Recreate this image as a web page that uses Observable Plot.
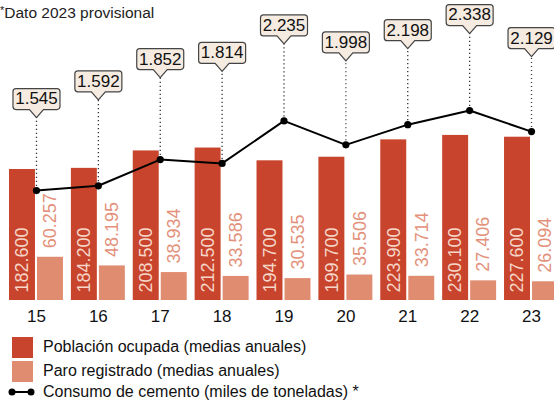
<!DOCTYPE html>
<html>
<head>
<meta charset="utf-8">
<script src="https://cdn.jsdelivr.net/npm/d3@7"></script>
<script src="https://cdn.jsdelivr.net/npm/@observablehq/plot@0.6"></script>
<style>
  html, body { margin: 0; padding: 0; background: #fff; }
  body { font-family: "Liberation Sans", Arial, Helvetica, sans-serif; }
  #wrap { position: relative; width: 554px; height: 404px; overflow: hidden; }
  #title { position: absolute; left: 0; top: 1px; font-size: 15.5px; color: #222; line-height: 18px; }
  #title sup { font-size: 11px; vertical-align: 4px; }
  #chart { position: absolute; left: 0; top: 0; }
  .leg { position: absolute; left: 0; font-size: 16px; color: #111; }
  .sw { position: absolute; left: 12px; width: 21px; height: 21px; }
  .lt { position: absolute; left: 43px; white-space: nowrap; line-height: 20px; }
</style>
</head>
<body>
<div id="wrap">
  <div id="chart"></div>
  <div id="title"><sup>*</sup>Dato 2023 provisional</div>
  <div class="sw" style="top:337px;background:#c8442c"></div>
  <div class="leg lt" style="top:337px">Población ocupada (medias anuales)</div>
  <div class="sw" style="top:361px;background:#e08c70"></div>
  <div class="leg lt" style="top:361px">Paro registrado (medias anuales)</div>
  <svg style="position:absolute;left:0;top:384px" width="40" height="16">
    <line x1="12" x2="31" y1="8" y2="8" stroke="#000" stroke-width="2"></line>
    <circle cx="12" cy="8" r="3.5" fill="#000"></circle>
    <circle cx="31" cy="8" r="3.5" fill="#000"></circle>
  </svg>
  <div class="leg lt" style="top:382px">Consumo de cemento (miles de toneladas) *</div>
</div>
<script>
// ---- data ----
const years = ["15", "16", "17", "18", "19", "20", "21", "22", "23"];
const poblacion = [182600, 184200, 208500, 212500, 194700, 199700, 223900, 230100, 227600];
const paro = [60257, 48195, 38934, 33586, 30535, 35506, 33714, 27406, 26094];
const cemento = [1545, 1592, 1852, 1814, 2235, 1998, 2198, 2338, 2129];
// leader length (px) of each callout above its point
const calloutLift = [73, 86, 82, 92, 77, 84, 76, 77, 75];

// ---- scales ----
const baseY = 300;
const pxPerUnit = 131 / 182600;           // bars: pixels per person
const cementPx = 80 / 793;                // line: pixels per thousand tonnes
const cementZero = 45.9;                  // px below baseline where cement = 0
const cementToY = v => (v * cementPx - cementZero) / pxPerUnit;

const fmt = v => d3.format(",")(v).replace(/,/g, ".");

const rows = years.map((y, i) => ({
  year: y,
  pob: poblacion[i],
  paro: paro[i],
  cem: cemento[i],
  cemY: cementToY(cemento[i]),
  tipY: cementToY(cemento[i]) + calloutLift[i] / pxPerUnit
}));

// callout symbol: rounded box with a pointer whose tip is at the origin
const callout = {
  draw(ctx) {
    const w = 47, h = 21, p = 8, hw = 7, r = 3;
    const b = -p, t = -p - h, l = -w / 2, rr = w / 2;
    ctx.moveTo(0, 0);
    ctx.lineTo(-hw, b);
    ctx.lineTo(l + r, b);
    ctx.arcTo(l, b, l, b - r, r);
    ctx.lineTo(l, t + r);
    ctx.arcTo(l, t, l + r, t, r);
    ctx.lineTo(rr - r, t);
    ctx.arcTo(rr, t, rr, t + r, r);
    ctx.lineTo(rr, b - r);
    ctx.arcTo(rr, b, rr - r, b, r);
    ctx.lineTo(hw, b);
    ctx.closePath();
  }
};

const font = "Liberation Sans, Arial, Helvetica, sans-serif";

const chart = Plot.plot({
  width: 554,
  height: 330,
  marginLeft: 0,
  marginRight: 0,
  marginTop: 0,
  marginBottom: 30,
  style: { fontFamily: font, background: "transparent", overflow: "hidden" },
  x: { type: "band", domain: years, range: [9, 558], paddingInner: 0.128, paddingOuter: 0, round: false, label: null },
  y: { domain: [0, baseY / pxPerUnit], range: [baseY, 0], axis: null },
  marks: [
    Plot.barY(rows, { x: "year", y: "pob", fill: "#c8442c", insetRight: 28 }),
    Plot.barY(rows, { x: "year", y: "paro", fill: "#e08c70", insetLeft: 28 }),
    Plot.text(rows, {
      x: "year", y: 0, text: d => fmt(d.pob), rotate: -90, textAnchor: "start",
      lineAnchor: "middle", dx: -14, dy: -8, fill: "#f6d6c8", fontSize: 18
    }),
    Plot.text(rows, {
      x: "year", y: "paro", text: d => fmt(d.paro), rotate: -90, textAnchor: "start",
      lineAnchor: "middle", dx: 14, dy: -9, fill: "#e3917a", fontSize: 18
    }),
    Plot.ruleX(rows, {
      x: "year", y1: "cemY", y2: "tipY", stroke: "#333", strokeWidth: 1.3, strokeDasharray: "1.2,2.8"
    }),
    Plot.line(rows, { x: "year", y: "cemY", stroke: "#000", strokeWidth: 2 }),
    Plot.dot(rows, { x: "year", y: "cemY", r: 3.6, fill: "#000" }),
    Plot.dot(rows, {
      x: "year", y: "tipY", symbol: callout, r: 5, fill: "#f5ebe1", stroke: "#444", strokeWidth: 1.2
    }),
    Plot.text(rows, {
      x: "year", y: "tipY", text: d => fmt(d.cem), dy: -18.5, lineAnchor: "middle",
      fill: "#111", fontSize: 17
    }),
    Plot.axisX({ tickSize: 0, tickPadding: 9, fontSize: 17, fill: "#111", label: null })
  ]
});
document.getElementById("chart").appendChild(chart);
</script>
</body>
</html>
